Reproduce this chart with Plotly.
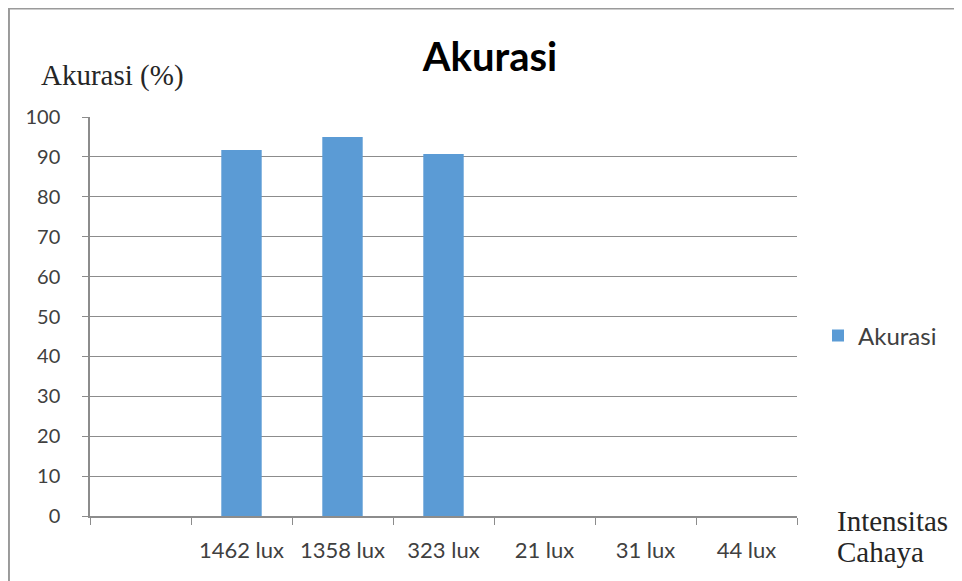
import plotly.graph_objects as go

categories = [" ", "1462 lux", "1358 lux", "323 lux", "21 lux", "31 lux", "44 lux"]
akurasi = [None, 91.75, 95.0, 90.75, 0, 0, 0]
y_ticks = [0, 10, 20, 30, 40, 50, 60, 70, 80, 90, 100]

# the page body adds an 8px margin; the figure fills the rest of the 962x581 window
OFF = 8
W, H = 962 - OFF, 581 - OFF
def px(x):
    return (x - OFF) / W
def py(y):
    return 1 - (y - OFF) / H

fig = go.Figure()
fig.add_trace(go.Bar(
    x=categories, y=akurasi, name="Akurasi",
    marker=dict(color="#5B9BD5", line=dict(width=0)),
))

fig.update_layout(
    width=W, height=H,
    margin=dict(l=0, r=0, t=0, b=0),
    paper_bgcolor="white", plot_bgcolor="white",
    bargap=0.6,
    font=dict(family="Lato, sans-serif", color="#404040"),
    title=dict(text="<b>Akurasi</b>", x=px(490), y=py(57), xanchor="center", yanchor="middle",
               font=dict(family="Lato, sans-serif", size=40, color="#000000")),
    showlegend=True,
    legend=dict(x=px(818), y=py(336), xanchor="left", yanchor="middle",
                font=dict(family="Lato, sans-serif", size=24, color="#404040"),
                bgcolor="rgba(0,0,0,0)", itemwidth=30),
    xaxis=dict(
        domain=[px(90), px(797)], range=[-0.5, 6.5], type="category",
        tickson="boundaries", ticks="outside", ticklen=7, tickcolor="#8c8c8c",
        showline=True, linecolor="#8c8c8c", linewidth=1.5, showgrid=False,
        tickfont=dict(family="Lato, sans-serif", size=22, color="#404040"),
        ticklabelstandoff=14, automargin=False, fixedrange=True,
    ),
    yaxis=dict(
        domain=[py(516), py(117)], range=[0, 100], tickvals=y_ticks,
        ticks="outside", ticklen=6, tickcolor="#8c8c8c",
        showline=True, linecolor="#8c8c8c", linewidth=1.5,
        showgrid=True, gridcolor="#8c8c8c", gridwidth=1.2, zeroline=False,
        tickfont=dict(family="Lato, sans-serif", size=20, color="#404040"),
        ticklabelstandoff=18, automargin=False, fixedrange=True,
    ),
)

serif = dict(family="Liberation Serif, serif", size=29, color="#262626")
fig.add_annotation(text="Akurasi (%)", x=px(39), y=py(75), xref="paper", yref="paper",
                   xanchor="left", yanchor="middle", showarrow=False, font=serif)
fig.add_annotation(text="Intensitas", x=px(835), y=py(521), xref="paper", yref="paper",
                   xanchor="left", yanchor="middle", showarrow=False, font=serif)
fig.add_annotation(text="Cahaya", x=px(835), y=py(552), xref="paper", yref="paper",
                   xanchor="left", yanchor="middle", showarrow=False, font=serif)

# frame (left and top edges of the chart box)
fig.add_shape(type="line", xref="paper", yref="paper", x0=0.001, x1=0.001, y0=0, y1=1,
              line=dict(color="#9a9a9a", width=2))
fig.add_shape(type="line", xref="paper", yref="paper", x0=0, x1=1, y0=0.999, y1=0.999,
              line=dict(color="#9a9a9a", width=2))

fig.write_html("out.html")
